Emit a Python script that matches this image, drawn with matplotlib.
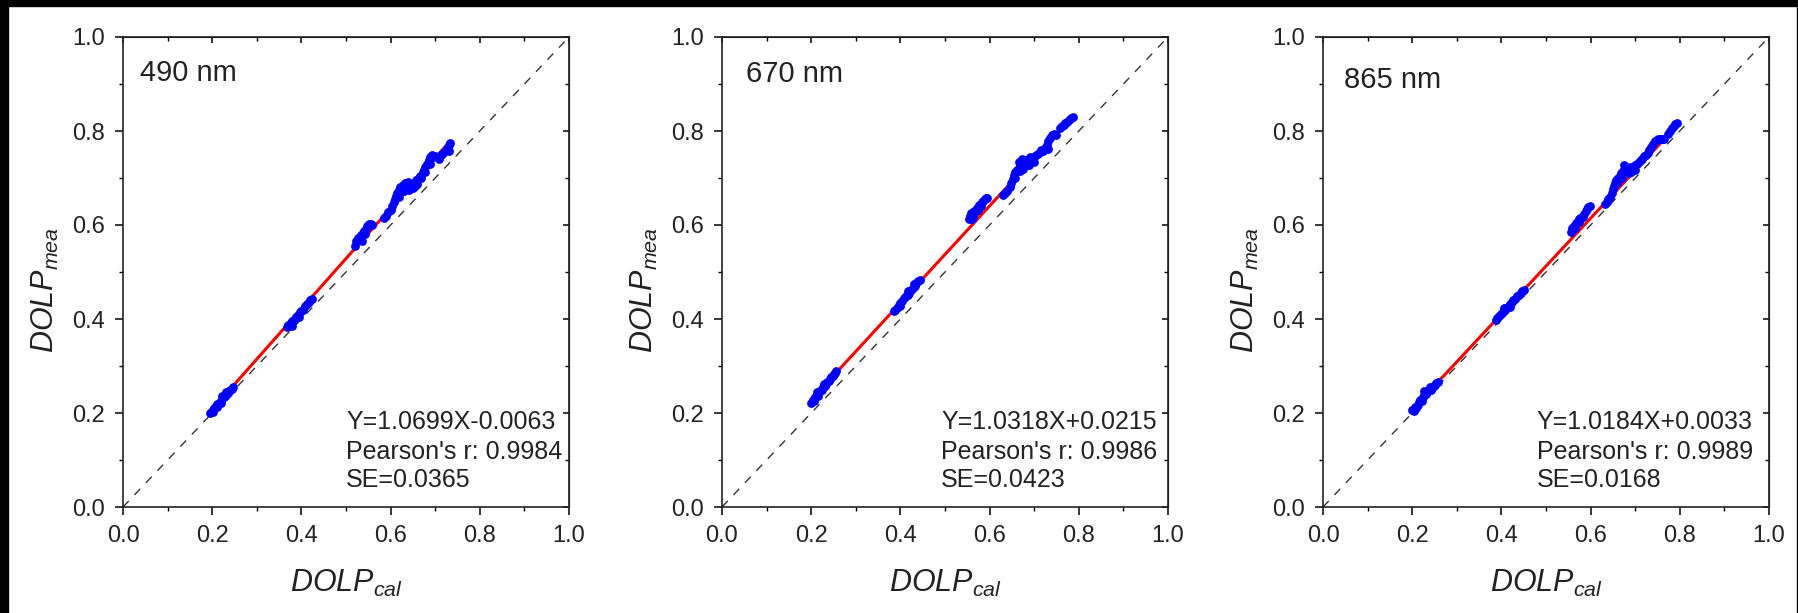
import matplotlib
matplotlib.use("Agg")
import matplotlib.pyplot as plt
from matplotlib.patches import Rectangle
from matplotlib.ticker import MultipleLocator

plt.rcParams['font.family'] = ['Liberation Sans', 'DejaVu Sans']
plt.rcParams['mathtext.fontset'] = 'custom'
plt.rcParams['mathtext.rm'] = 'Liberation Sans'
plt.rcParams['mathtext.it'] = 'Liberation Sans:italic'

# ---- data ----
WAVELENGTHS = ['490 nm', '670 nm', '865 nm']
FIT_SLOPE = [1.0699, 1.0318, 1.0184]
FIT_INTERCEPT = [-0.0063, 0.0215, 0.0033]
FIT_RANGE = [(0.195, 0.733), (0.200, 0.787), (0.200, 0.794)]
STATS_TEXT = [
    ['Y=1.0699X-0.0063', "Pearson's r: 0.9984", 'SE=0.0365'],
    ['Y=1.0318X+0.0215', "Pearson's r: 0.9986", 'SE=0.0423'],
    ['Y=1.0184X+0.0033', "Pearson's r: 0.9989", 'SE=0.0168'],
]

pts_490 = [
    (0.196, 0.200), (0.199, 0.205), (0.202, 0.203), (0.205, 0.210), (0.208, 0.214), (0.211, 0.212),
    (0.214, 0.220), (0.217, 0.224), (0.220, 0.222), (0.223, 0.230), (0.226, 0.233), (0.229, 0.236),
    (0.232, 0.238), (0.235, 0.243), (0.238, 0.246), (0.241, 0.250), (0.244, 0.252), (0.247, 0.256),
    (0.210, 0.220), (0.222, 0.236), (0.232, 0.244),
    (0.367, 0.383), (0.370, 0.388), (0.373, 0.386), (0.376, 0.392), (0.380, 0.395), (0.384, 0.398),
    (0.388, 0.404), (0.392, 0.408), (0.396, 0.414), (0.400, 0.418), (0.404, 0.420), (0.408, 0.428),
    (0.412, 0.432), (0.416, 0.436), (0.420, 0.440), (0.424, 0.443), (0.378, 0.385), (0.395, 0.405),
    (0.521, 0.556), (0.523, 0.565), (0.526, 0.572), (0.530, 0.570), (0.533, 0.578), (0.537, 0.583),
    (0.540, 0.588), (0.542, 0.580), (0.545, 0.592), (0.548, 0.598), (0.551, 0.602), (0.555, 0.603),
    (0.558, 0.600), (0.535, 0.566),
    (0.585, 0.615), (0.590, 0.620), (0.595, 0.627), (0.600, 0.632), (0.604, 0.640), (0.607, 0.648),
    (0.610, 0.655), (0.612, 0.662), (0.615, 0.668), (0.618, 0.675), (0.622, 0.680), (0.625, 0.672),
    (0.628, 0.685), (0.632, 0.690), (0.635, 0.680), (0.638, 0.692), (0.642, 0.675), (0.645, 0.688),
    (0.648, 0.680), (0.652, 0.690), (0.655, 0.684), (0.658, 0.695), (0.662, 0.698), (0.665, 0.705),
    (0.668, 0.700), (0.672, 0.712), (0.675, 0.718), (0.678, 0.724), (0.682, 0.730), (0.685, 0.738),
    (0.688, 0.745), (0.692, 0.748), (0.696, 0.745), (0.700, 0.746), (0.704, 0.744), (0.708, 0.740),
    (0.712, 0.748), (0.716, 0.752), (0.720, 0.755), (0.724, 0.760), (0.728, 0.765), (0.731, 0.770),
    (0.733, 0.775), (0.730, 0.758), (0.630, 0.672), (0.640, 0.684), (0.650, 0.678), (0.660, 0.688),
    (0.618, 0.660), (0.678, 0.712), (0.688, 0.730),
]

pts_670 = [
    (0.200, 0.222), (0.203, 0.228), (0.206, 0.226), (0.209, 0.234), (0.212, 0.238), (0.215, 0.236),
    (0.218, 0.245), (0.221, 0.248), (0.224, 0.250), (0.227, 0.256), (0.230, 0.258), (0.233, 0.262),
    (0.236, 0.266), (0.239, 0.268), (0.242, 0.272), (0.245, 0.276), (0.248, 0.278), (0.251, 0.282),
    (0.254, 0.286), (0.256, 0.289), (0.212, 0.244), (0.228, 0.262),
    (0.385, 0.416), (0.388, 0.420), (0.392, 0.424), (0.396, 0.430), (0.400, 0.434), (0.404, 0.438),
    (0.408, 0.444), (0.412, 0.448), (0.416, 0.452), (0.420, 0.456), (0.424, 0.462), (0.428, 0.466),
    (0.432, 0.470), (0.436, 0.476), (0.440, 0.480), (0.443, 0.484), (0.400, 0.428), (0.418, 0.460),
    (0.430, 0.475),
    (0.553, 0.612), (0.556, 0.620), (0.559, 0.625), (0.562, 0.618), (0.565, 0.630), (0.568, 0.628),
    (0.571, 0.636), (0.574, 0.632), (0.577, 0.642), (0.580, 0.640), (0.583, 0.648), (0.586, 0.652),
    (0.589, 0.656), (0.592, 0.658), (0.595, 0.658), (0.560, 0.612),
    (0.630, 0.664), (0.635, 0.668), (0.640, 0.672), (0.645, 0.680), (0.648, 0.690), (0.652, 0.698),
    (0.655, 0.706), (0.658, 0.712), (0.662, 0.718), (0.665, 0.722), (0.668, 0.715), (0.672, 0.726),
    (0.675, 0.720), (0.678, 0.730), (0.682, 0.728), (0.685, 0.733), (0.688, 0.728), (0.692, 0.736),
    (0.696, 0.740), (0.700, 0.744), (0.704, 0.748), (0.708, 0.752), (0.712, 0.756), (0.716, 0.760),
    (0.720, 0.758), (0.724, 0.764), (0.728, 0.770), (0.732, 0.778), (0.736, 0.786), (0.740, 0.792),
    (0.744, 0.794), (0.748, 0.792), (0.758, 0.806), (0.762, 0.810), (0.766, 0.812), (0.770, 0.816),
    (0.774, 0.820), (0.778, 0.824), (0.782, 0.828), (0.786, 0.830), (0.665, 0.735), (0.672, 0.740),
    (0.680, 0.738), (0.658, 0.700), (0.690, 0.745), (0.700, 0.735), (0.730, 0.762),
]

pts_865 = [
    (0.200, 0.207), (0.203, 0.205), (0.206, 0.212), (0.209, 0.210), (0.212, 0.218), (0.215, 0.224),
    (0.218, 0.228), (0.221, 0.226), (0.224, 0.234), (0.227, 0.238), (0.230, 0.240), (0.233, 0.244),
    (0.236, 0.246), (0.239, 0.248), (0.242, 0.250), (0.245, 0.254), (0.248, 0.258), (0.251, 0.260),
    (0.254, 0.264), (0.257, 0.266), (0.226, 0.246), (0.240, 0.256),
    (0.387, 0.398), (0.391, 0.402), (0.395, 0.406), (0.399, 0.410), (0.403, 0.414), (0.407, 0.420),
    (0.411, 0.424), (0.415, 0.426), (0.419, 0.432), (0.423, 0.436), (0.427, 0.440), (0.431, 0.442),
    (0.435, 0.448), (0.439, 0.452), (0.443, 0.456), (0.447, 0.460), (0.450, 0.462), (0.405, 0.424),
    (0.420, 0.426),
    (0.557, 0.586), (0.559, 0.594), (0.562, 0.598), (0.565, 0.594), (0.568, 0.604), (0.571, 0.608),
    (0.574, 0.606), (0.577, 0.614), (0.580, 0.618), (0.583, 0.616), (0.586, 0.624), (0.589, 0.630),
    (0.592, 0.634), (0.595, 0.638), (0.598, 0.641), (0.575, 0.612),
    (0.632, 0.645), (0.636, 0.650), (0.640, 0.656), (0.644, 0.660), (0.648, 0.668), (0.650, 0.676),
    (0.652, 0.684), (0.655, 0.690), (0.658, 0.696), (0.662, 0.700), (0.665, 0.705), (0.668, 0.710),
    (0.672, 0.714), (0.676, 0.718), (0.680, 0.716), (0.684, 0.722), (0.688, 0.724), (0.692, 0.722),
    (0.696, 0.724), (0.700, 0.728), (0.704, 0.730), (0.708, 0.734), (0.712, 0.738), (0.716, 0.740),
    (0.720, 0.746), (0.724, 0.750), (0.728, 0.754), (0.732, 0.760), (0.736, 0.766), (0.740, 0.772),
    (0.744, 0.778), (0.748, 0.780), (0.752, 0.782), (0.756, 0.784), (0.760, 0.782), (0.764, 0.784),
    (0.774, 0.794), (0.778, 0.800), (0.782, 0.806), (0.786, 0.810), (0.790, 0.814), (0.794, 0.817),
    (0.660, 0.690), (0.670, 0.700), (0.690, 0.712), (0.675, 0.728), (0.685, 0.710), (0.700, 0.716),
]

POINTS = [pts_490, pts_670, pts_865]

# ---- layout (pixel positions measured on the 1799x613 reference) ----
W, H = 1799, 613
AX_LEFT_PX = [123, 722, 1323]
AX_W_PX, AX_TOP_PX, AX_BOT_PX = 446, 37, 507
LABEL_POS = [(0.037, 0.924), (0.053, 0.921), (0.047, 0.909)]
STATS_X = [0.500, 0.491, 0.479]
STATS_Y = [0.181, 0.118, 0.057]
TEXT_COLOR = '#222222'

fig = plt.figure(figsize=(W / 100, H / 100), dpi=100)

for i in range(3):
    rect = [AX_LEFT_PX[i] / W, (H - AX_BOT_PX) / H, AX_W_PX / W, (AX_BOT_PX - AX_TOP_PX) / H]
    ax = fig.add_axes(rect)

    # 1:1 reference line
    ax.plot([0, 1], [0, 1], color='#333333', lw=1.0, dashes=(6, 6), zorder=1)

    # fitted line
    x0, x1 = FIT_RANGE[i]
    ax.plot([x0, x1], [FIT_SLOPE[i] * x0 + FIT_INTERCEPT[i], FIT_SLOPE[i] * x1 + FIT_INTERCEPT[i]],
            color='#ff0000', lw=2.2, zorder=2, solid_capstyle='butt')

    xs = [p[0] for p in POINTS[i]]
    ys = [p[1] for p in POINTS[i]]
    ax.scatter(xs, ys, s=40, color='#0000ff', linewidths=0, zorder=3)

    ax.set_xlim(0, 1)
    ax.set_ylim(0, 1)
    ax.xaxis.set_major_locator(MultipleLocator(0.2))
    ax.xaxis.set_minor_locator(MultipleLocator(0.1))
    ax.yaxis.set_major_locator(MultipleLocator(0.2))
    ax.yaxis.set_minor_locator(MultipleLocator(0.1))
    ax.xaxis.set_major_formatter(lambda v, p: f'{v:.1f}')
    ax.yaxis.set_major_formatter(lambda v, p: f'{v:.1f}')
    ax.tick_params(which='major', direction='out', length=6, width=1.1,
                   labelsize=17, labelcolor=TEXT_COLOR, pad=7)
    ax.tick_params(which='minor', direction='out', length=3, width=1.0)
    for sp in ax.spines.values():
        sp.set_linewidth(1.2)
        sp.set_color('#222222')

    # inward ticks on the top and right spines
    top = ax.secondary_xaxis('top')
    top.xaxis.set_major_locator(MultipleLocator(0.2))
    top.xaxis.set_minor_locator(MultipleLocator(0.1))
    top.tick_params(which='major', direction='in', length=4.5, width=1.1, labeltop=False)
    top.tick_params(which='minor', direction='in', length=3, width=1.0)
    right = ax.secondary_yaxis('right')
    right.yaxis.set_major_locator(MultipleLocator(0.2))
    right.yaxis.set_minor_locator(MultipleLocator(0.1))
    right.tick_params(which='major', direction='in', length=4.5, width=1.1, labelright=False)
    right.tick_params(which='minor', direction='in', length=3, width=1.0)

    ax.set_xlabel(r'$\mathit{DOLP}_{\mathit{cal}}$', fontsize=22, color=TEXT_COLOR)
    ax.set_ylabel(r'$\mathit{DOLP}_{\mathit{mea}}$', fontsize=22, color=TEXT_COLOR)
    ax.xaxis.set_label_coords(0.5, -0.13)
    ax.yaxis.set_label_coords(-0.14, 0.462)

    ax.text(LABEL_POS[i][0], LABEL_POS[i][1], WAVELENGTHS[i], transform=ax.transAxes,
            fontsize=21, color=TEXT_COLOR, ha='left', va='center')
    for line, yy in zip(STATS_TEXT[i], STATS_Y):
        ax.text(STATS_X[i], yy, line, transform=ax.transAxes, fontsize=18,
                color=TEXT_COLOR, ha='left', va='center')

# black strips left by the crop of the original picture
for (bx, by, bw, bh) in [(0, 607, W, 6), (0, 0, 8, H), (W - 2, 0, 2, H)]:
    fig.patches.append(Rectangle((bx / W, by / H), bw / W, bh / H, transform=fig.transFigure,
                                 color='black', zorder=10))

fig.savefig('out.png', dpi=100, facecolor='white')
